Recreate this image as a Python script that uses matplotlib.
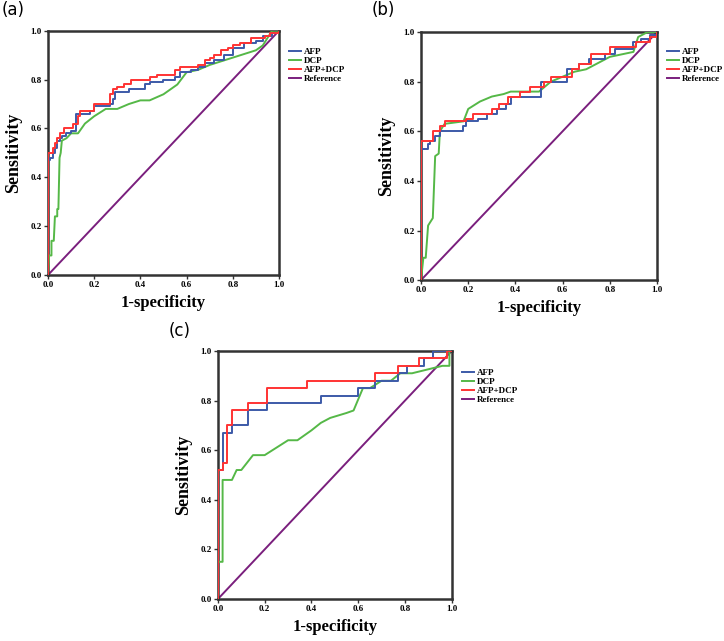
import matplotlib
matplotlib.use("Agg")
import matplotlib.pyplot as plt

# ---- panel (a) ----
a_afp_x = [0, 0, 0.01, 0.02, 0.03, 0.04, 0.05, 0.06, 0.08, 0.10, 0.12, 0.12, 0.18, 0.20, 0.27, 0.28, 0.29,
           0.35, 0.40, 0.42, 0.44, 0.50, 0.55, 0.57, 0.62, 0.65, 0.68, 0.72, 0.76, 0.80, 0.85, 0.90, 0.93, 0.97, 1.0]
a_afp_y = [0, 0.47, 0.48, 0.50, 0.52, 0.55, 0.56, 0.57, 0.58, 0.59, 0.60, 0.66, 0.67, 0.69, 0.70, 0.72, 0.75,
           0.76, 0.76, 0.78, 0.79, 0.80, 0.81, 0.83, 0.84, 0.85, 0.87, 0.88, 0.90, 0.93, 0.95, 0.96, 0.98, 0.99, 1.0]
a_dcp_x = [0, 0.005, 0.015, 0.015, 0.025, 0.03, 0.04, 0.04, 0.045, 0.05, 0.055, 0.06, 0.08, 0.10, 0.13, 0.16,
           0.20, 0.25, 0.30, 0.35, 0.40, 0.44, 0.50, 0.56, 0.60, 0.65, 0.70, 0.80, 0.90, 0.93, 0.95, 0.97, 1.0]
a_dcp_y = [0, 0.08, 0.08, 0.14, 0.14, 0.24, 0.24, 0.27, 0.27, 0.48, 0.50, 0.55, 0.56, 0.58, 0.58, 0.62,
           0.65, 0.68, 0.68, 0.70, 0.715, 0.715, 0.74, 0.78, 0.83, 0.84, 0.86, 0.89, 0.92, 0.94, 0.97, 1.0, 1.0]
a_both_x = [0, 0, 0.02, 0.03, 0.04, 0.05, 0.07, 0.11, 0.13, 0.14, 0.20, 0.27, 0.28, 0.30, 0.33, 0.36, 0.40,
            0.44, 0.47, 0.55, 0.57, 0.65, 0.68, 0.70, 0.72, 0.75, 0.78, 0.80, 0.83, 0.88, 0.94, 0.96, 1.0]
a_both_y = [0, 0.50, 0.52, 0.54, 0.56, 0.58, 0.60, 0.62, 0.65, 0.67, 0.70, 0.74, 0.76, 0.77, 0.78, 0.80, 0.80,
            0.81, 0.82, 0.84, 0.85, 0.86, 0.88, 0.89, 0.90, 0.92, 0.93, 0.94, 0.95, 0.97, 0.98, 0.99, 1.0]

# ---- panel (b) ----
b_afp_x = [0, 0, 0.03, 0.04, 0.06, 0.08, 0.17, 0.18, 0.19, 0.24, 0.28, 0.32, 0.36, 0.38, 0.50, 0.51,
           0.60, 0.62, 0.67, 0.71, 0.78, 0.82, 0.90, 0.93, 0.97, 1.0]
b_afp_y = [0, 0.53, 0.55, 0.56, 0.58, 0.60, 0.60, 0.62, 0.64, 0.65, 0.67, 0.69, 0.71, 0.74, 0.74, 0.80,
           0.80, 0.85, 0.87, 0.89, 0.91, 0.93, 0.96, 0.97, 0.99, 1.0]
b_dcp_x = [0, 0.01, 0.02, 0.03, 0.05, 0.06, 0.075, 0.08, 0.10, 0.18, 0.20, 0.25, 0.30, 0.35, 0.38, 0.50,
           0.55, 0.60, 0.65, 0.70, 0.80, 0.90, 0.92, 0.96, 1.0]
b_dcp_y = [0, 0.09, 0.09, 0.22, 0.25, 0.50, 0.51, 0.60, 0.63, 0.64, 0.69, 0.72, 0.74, 0.75, 0.76, 0.76,
           0.80, 0.82, 0.84, 0.85, 0.90, 0.92, 0.98, 1.0, 1.0]
b_both_x = [0, 0, 0.05, 0.08, 0.10, 0.19, 0.22, 0.30, 0.33, 0.37, 0.42, 0.46, 0.52, 0.55, 0.62, 0.64,
            0.67, 0.72, 0.80, 0.91, 0.97, 1.0]
b_both_y = [0, 0.56, 0.60, 0.62, 0.64, 0.65, 0.67, 0.69, 0.71, 0.74, 0.76, 0.78, 0.80, 0.82, 0.82, 0.85,
            0.87, 0.91, 0.94, 0.96, 0.98, 1.0]

# ---- panel (c) ----
c_afp_x = [0, 0, 0.02, 0.06, 0.13, 0.21, 0.44, 0.60, 0.67, 0.77, 0.81, 0.88, 0.92, 1.0]
c_afp_y = [0, 0.52, 0.67, 0.70, 0.76, 0.79, 0.82, 0.85, 0.88, 0.91, 0.94, 0.97, 1.0, 1.0]
c_dcp_x = [0, 0, 0.02, 0.02, 0.06, 0.08, 0.10, 0.15, 0.20, 0.30, 0.34, 0.40, 0.44, 0.48, 0.55, 0.58,
           0.62, 0.65, 0.70, 0.74, 0.78, 0.83, 0.96, 0.99, 0.99, 1.0]
c_dcp_y = [0, 0.15, 0.15, 0.48, 0.48, 0.52, 0.52, 0.58, 0.58, 0.64, 0.64, 0.68, 0.71, 0.73, 0.75, 0.76,
           0.85, 0.85, 0.88, 0.88, 0.91, 0.91, 0.94, 0.94, 1.0, 1.0]
c_both_x = [0, 0, 0.02, 0.04, 0.06, 0.13, 0.21, 0.38, 0.67, 0.77, 0.86, 0.98, 1.0]
c_both_y = [0, 0.52, 0.55, 0.70, 0.76, 0.79, 0.85, 0.88, 0.91, 0.94, 0.97, 1.0, 1.0]

labels = ["AFP", "DCP", "AFP+DCP", "Reference"]
col_afp = "#3c5aa8"
col_dcp = "#55b847"
col_both = "#ff3333"
col_ref = "#7a1f7d"

serif = "Liberation Serif"

fig = plt.figure(figsize=(7.24, 6.41), dpi=100)


def roc_panel(rect, tag, tagpos, afp, dcp, both, legpos, xlabel=True):
    ax = fig.add_axes(rect)
    ax.plot([0, 1], [0, 1], color=col_ref, lw=1.4, label=labels[3], zorder=2)
    ax.plot(dcp[0], dcp[1], color=col_dcp, lw=1.4, label=labels[1], zorder=3)
    ax.plot(afp[0], afp[1], color=col_afp, lw=1.4, drawstyle="steps-post", label=labels[0], zorder=4)
    ax.plot(both[0], both[1], color=col_both, lw=1.4, drawstyle="steps-post", label=labels[2], zorder=5)
    ax.set_xlim(0, 1)
    ax.set_ylim(0, 1)
    ticks = [0, 0.2, 0.4, 0.6, 0.8, 1.0]
    ax.set_xticks(ticks)
    ax.set_yticks(ticks)
    ax.set_xticklabels(["%.1f" % t for t in ticks], fontfamily=serif, fontweight="bold", fontsize=6.5)
    ax.set_yticklabels(["%.1f" % t for t in ticks], fontfamily=serif, fontweight="bold", fontsize=6.5)
    ax.tick_params(length=3, width=1, pad=1.5, color="#333333")
    for s in ax.spines.values():
        s.set_linewidth(1.8)
        s.set_color("#333333")
    ax.set_ylabel("Sensitivity", fontfamily=serif, fontweight="bold", fontsize=13, labelpad=6)
    if xlabel:
        ax.set_xlabel("1-specificity", fontfamily=serif, fontweight="bold", fontsize=12, labelpad=4)
    h, l = ax.get_legend_handles_labels()
    hs = [h[l.index(name)] for name in labels]
    fig.legend(hs, labels, loc="upper left", bbox_to_anchor=legpos, frameon=False,
               prop={"family": serif, "weight": "bold", "size": 6.5}, handlelength=1.3,
               handletextpad=0.3, labelspacing=0.08, borderpad=0, borderaxespad=0)
    fig.text(tagpos[0], tagpos[1], tag, fontsize=12, ha="left", va="top")
    return ax


roc_panel([0.0663, 0.571, 0.319, 0.381], "(a)", (0.002, 0.998),
          (a_afp_x, a_afp_y), (a_dcp_x, a_dcp_y), (a_both_x, a_both_y), (289 / 724, 1 - 48 / 641))
roc_panel([0.5815, 0.563, 0.326, 0.387], "(b)", (0.513, 0.998),
          (b_afp_x, b_afp_y), (b_dcp_x, b_dcp_y), (b_both_x, b_both_y), (667 / 724, 1 - 48 / 641))
roc_panel([0.301, 0.0655, 0.323, 0.387], "(c)", (0.233, 1 - 322 / 641),
          (c_afp_x, c_afp_y), (c_dcp_x, c_dcp_y), (c_both_x, c_both_y), (462 / 724, 1 - 369 / 641))

fig.savefig("out.png", dpi=100)
